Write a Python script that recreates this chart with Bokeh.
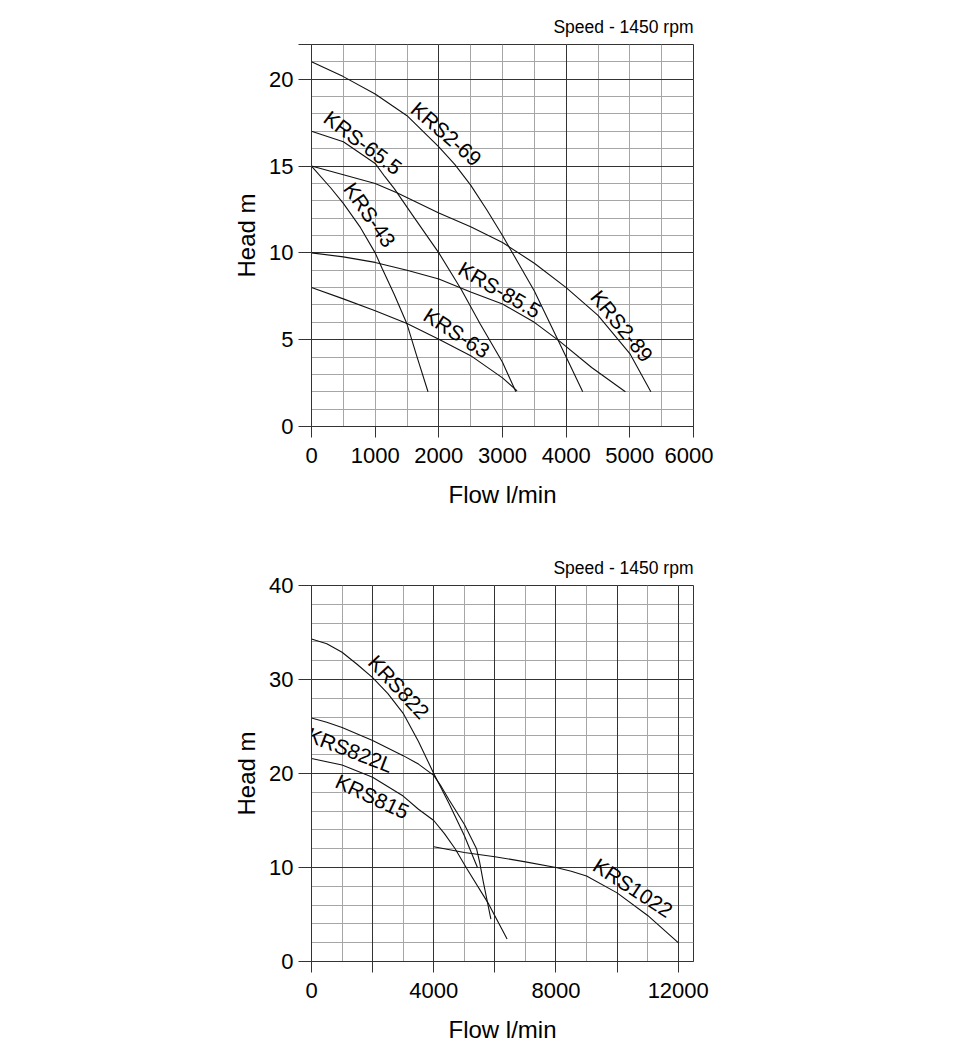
import math
from bokeh.plotting import figure
from bokeh.models import FixedTicker, Grid, Range1d
from bokeh.layouts import column
from bokeh.core.properties import value
from bokeh.embed import file_html
from bokeh.resources import INLINE

FONT = "Liberation Sans"

# ---------------- top chart data (flow l/min, head m) ----------------
krs43_q = [0, 300, 500, 770, 1000, 1110, 1300, 1500, 1650, 1830]
krs43_h = [15.0, 13.75, 12.85, 11.45, 10.0, 9.1, 7.6, 5.9, 4.1, 2.0]

krs655_q = [0, 500, 1000, 1150, 1300, 1600, 2000, 2350, 2650, 3000, 3210]
krs655_h = [17.0, 16.4, 15.15, 14.4, 13.7, 12.1, 10.0, 7.9, 5.9, 3.7, 2.0]

krs269_q = [0, 500, 1000, 1500, 2000, 2250, 2500, 2750, 3000, 3250, 3500, 3750, 4000, 4260]
krs269_h = [21.0, 20.15, 19.15, 17.9, 16.1, 15.1, 13.9, 12.5, 11.0, 9.4, 7.8, 5.9, 4.0, 2.0]

krs289_q = [0, 500, 1000, 1350, 2000, 2500, 3000, 3500, 4000, 4500, 5000, 5330]
krs289_h = [15.0, 14.5, 14.0, 13.45, 12.3, 11.5, 10.6, 9.4, 8.0, 6.4, 4.2, 2.0]

krs855_q = [0, 500, 1000, 1500, 2000, 2500, 3000, 3500, 3900, 4400, 4930]
krs855_h = [10.0, 9.77, 9.45, 9.0, 8.5, 7.75, 7.05, 6.0, 4.9, 3.4, 2.0]

krs63_q = [0, 500, 1000, 1500, 2000, 2500, 3000, 3230]
krs63_h = [8.0, 7.35, 6.67, 5.93, 5.03, 4.08, 2.8, 2.05]

top_names = ["KRS2-69", "KRS-65.5", "KRS-43", "KRS-85.5", "KRS-63", "KRS2-89"]
top_label_q = [2068, 761, 852, 2918, 2238, 4814]
top_label_h = [16.64, 16.11, 12.03, 7.62, 5.15, 5.6]
top_label_deg = [-41, -37, -55, -30, -33, -51]

top_x_ticks = [0, 1000, 2000, 3000, 4000, 5000, 6000]
top_y_ticks = [0, 5, 10, 15, 20]

# ---------------- bottom chart data ----------------
krs822_q = [0, 500, 1000, 1500, 2000, 2500, 3000, 3500, 4000, 4500, 5000, 5430]
krs822_h = [34.3, 33.8, 32.9, 31.6, 30.2, 28.5, 26.4, 23.4, 20.0, 16.8, 13.4, 10.0]

krs822l_q = [0, 500, 1000, 2000, 3000, 3500, 4000, 4250, 4500, 5000, 5400, 5500, 5620, 5870]
krs822l_h = [25.9, 25.45, 24.9, 23.5, 21.9, 21.0, 19.8, 18.6, 17.2, 14.6, 12.0, 10.6, 8.5, 4.5]

krs815_q = [0, 1000, 2000, 3000, 3500, 4000, 4350, 4700, 5080, 5800, 6400]
krs815_h = [21.6, 20.9, 19.6, 17.6, 16.2, 15.0, 13.6, 12.0, 9.9, 6.1, 2.4]

krs1022_q = [4000, 5000, 6000, 7000, 8000, 8500, 9000, 10000, 11000, 12000]
krs1022_h = [12.2, 11.6, 11.15, 10.6, 10.0, 9.6, 9.1, 7.3, 4.9, 2.0]

bot_names = ["KRS822", "KRS822L", "KRS815", "KRS1022"]
bot_label_q = [2739, 1322, 2058, 10429]
bot_label_h = [28.85, 23.0, 18.04, 7.4]
bot_label_deg = [-47, -21, -25, -33]
bot_label_side = [1, -1, -1, 1]

bot_x_ticks = [0, 2000, 4000, 6000, 8000, 10000, 12000]
bot_x_shown = [0, 4000, 8000, 12000]
bot_y_ticks = [0, 10, 20, 30, 40]

speed_text = "Speed - 1450 rpm"

MINOR = "#a6a6a6"
MAJOR = "#333333"
CURVE = "#111111"
LIFT = 5  # px, labels sit just off their curve


def make_fig(xmax, ymax, top, bottom, xminor, yminor, xmajor, ymajor,
             xticks, xshown, yticks):
    p = figure(width=311 + 382 + 20, height=top + 382 + bottom,
               x_range=Range1d(0, xmax), y_range=Range1d(0, ymax),
               min_border_left=311, min_border_right=20,
               min_border_top=top, min_border_bottom=bottom,
               output_backend="svg", toolbar_location=None)
    p.outline_line_color = MAJOR
    p.outline_line_width = 1
    p.background_fill_color = "white"
    p.border_fill_color = "white"

    p.title.text = speed_text
    p.title.align = "right"
    p.title.text_font = FONT
    p.title.text_font_size = "17.5px"
    p.title.text_font_style = "normal"
    p.title.text_color = "black"
    p.title.standoff = 16

    p.xgrid.ticker = FixedTicker(ticks=xminor)
    p.ygrid.ticker = FixedTicker(ticks=yminor)
    p.xgrid.grid_line_color = MINOR
    p.ygrid.grid_line_color = MINOR
    p.add_layout(Grid(dimension=0, ticker=FixedTicker(ticks=xmajor),
                      grid_line_color=MAJOR))
    p.add_layout(Grid(dimension=1, ticker=FixedTicker(ticks=ymajor),
                      grid_line_color=MAJOR))

    ytk = list(yticks) + ([ymax] if ymax not in yticks else [])
    p.xaxis.ticker = FixedTicker(ticks=xticks)
    p.yaxis.ticker = FixedTicker(ticks=ytk)
    p.xaxis.major_label_overrides = {t: ("" if t not in xshown else str(t)) for t in xticks}
    p.yaxis.major_label_overrides = {t: ("" if t not in yticks else str(t)) for t in ytk}

    for ax in (p.xaxis[0], p.yaxis[0]):
        ax.axis_line_color = MAJOR
        ax.major_tick_line_color = MAJOR
        ax.minor_tick_line_color = None
        ax.major_tick_in = 0
        ax.major_label_text_font = FONT
        ax.major_label_text_font_size = "22px"
        ax.major_label_text_color = "black"
        ax.axis_label_text_font = FONT
        ax.axis_label_text_font_size = "24px"
        ax.axis_label_text_font_style = "normal"
        ax.axis_label_text_color = "black"
    p.xaxis.major_tick_out = 11
    p.yaxis.major_tick_out = 13
    p.xaxis.major_label_standoff = 10
    p.yaxis.major_label_standoff = 5
    p.xaxis.axis_label_standoff = 15
    p.yaxis.axis_label_standoff = 6
    p.xaxis.axis_label = "Flow l/min"
    p.yaxis.axis_label = "Head m"
    return p


def add_labels(p, xs, ys, names, degs, sides):
    rad = [math.radians(a) for a in degs]
    xo = [s * LIFT * math.sin(-r) for r, s in zip(rad, sides)]
    yo = [-s * LIFT * math.cos(r) for r, s in zip(rad, sides)]
    p.text(x=xs, y=ys, text=names, angle=rad, x_offset=xo, y_offset=yo,
           text_font=value(FONT), text_font_size="21px",
           text_align="center", text_baseline="middle", text_color="black")


p1 = make_fig(6000, 22, 44, 121,
              list(range(0, 6001, 500)), list(range(0, 23)),
              [2000, 4000], [5, 10, 15, 20, 22],
              top_x_ticks, top_x_ticks, top_y_ticks)

for q, h in [(krs43_q, krs43_h), (krs655_q, krs655_h), (krs269_q, krs269_h),
             (krs289_q, krs289_h), (krs855_q, krs855_h), (krs63_q, krs63_h)]:
    p1.line(q, h, line_color=CURVE, line_width=1.1)

add_labels(p1, top_label_q, top_label_h, top_names, top_label_deg,
           [1] * len(top_names))

p2 = make_fig(12500, 40, 36, 80,
              list(range(0, 12001, 1000)), list(range(0, 41, 2)),
              [2000, 4000, 6000, 8000, 10000, 12000], [10, 20, 30, 40],
              bot_x_ticks, bot_x_shown, bot_y_ticks)

for q, h in [(krs822_q, krs822_h), (krs822l_q, krs822l_h),
             (krs815_q, krs815_h), (krs1022_q, krs1022_h)]:
    p2.line(q, h, line_color=CURVE, line_width=1.1)

add_labels(p2, bot_label_q, bot_label_h, bot_names, bot_label_deg,
           bot_label_side)

layout = column(p1, p2, spacing=0)
open("out.html", "w").write(file_html(layout, INLINE))
